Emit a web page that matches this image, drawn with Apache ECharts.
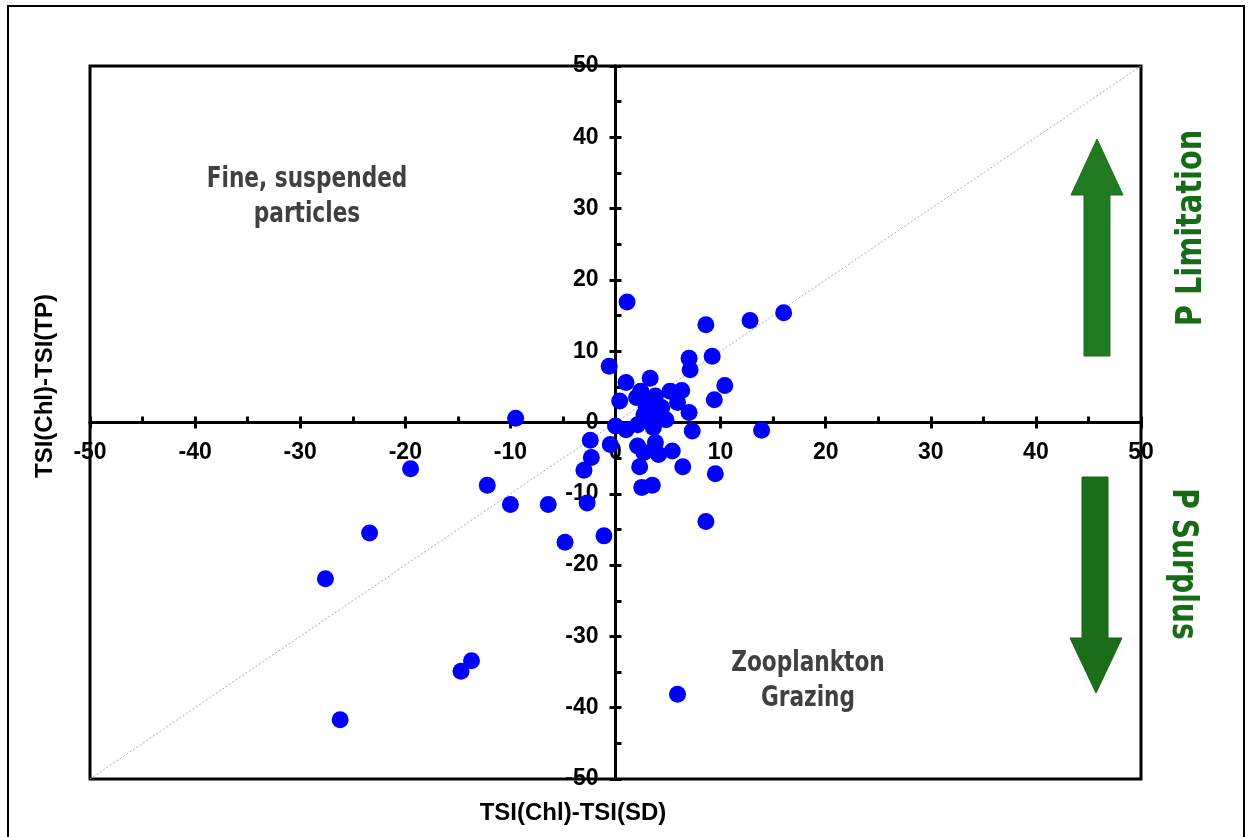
<!DOCTYPE html>
<html>
<head>
<meta charset="utf-8">
<script src="https://cdn.jsdelivr.net/npm/echarts@6/dist/echarts.min.js"></script>
<style>
html,body{margin:0;padding:0;background:#fff;}
#main{width:1248px;height:837px;}
</style>
</head>
<body>
<div id="main"></div>
<script>
// TSI(Chl)-TSI(SD) values (x)
const xValues = [1.1, 16.0, 12.8, 8.6, 7.0, 9.2, 7.1, -0.6, 10.4, 9.4,
  1.0, 3.3, 0.4, 2.4, 3.8, 5.2, 6.3, 2.9, 4.4, 5.9,
  7.0, 2.7, 4.0, 4.8, 2.1, 0.0, 1.0, 3.6, 7.3, 13.9,
  -2.4, -0.5, 2.1, 3.8, -2.3, 2.7, 4.1, 5.4, -3.0, 2.3,
  6.4, 9.5, 2.5, 3.5, -2.7, 8.6, -9.5, -19.5, -12.2, -10.0,
  -6.4, -23.4, -4.8, -1.1, -27.6, -13.7, -14.7, -26.2, 5.9,
  2.0, 3.0, 4.2];
// TSI(Chl)-TSI(TP) values (y)
const yValues = [16.9, 15.4, 14.3, 13.7, 9.0, 9.3, 7.4, 7.9, 5.2, 3.2,
  5.6, 6.2, 3.0, 4.4, 3.7, 4.4, 4.5, 2.5, 2.1, 2.8,
  1.4, 1.1, 0.7, 0.4, -0.3, -0.5, -1.0, -0.7, -1.2, -1.1,
  -2.5, -3.1, -3.3, -2.8, -4.9, -4.2, -4.5, -4.0, -6.7, -6.2,
  -6.2, -7.2, -9.1, -8.8, -11.3, -13.9, 0.6, -6.5, -8.8, -11.5,
  -11.5, -15.5, -16.8, -15.9, -21.9, -33.4, -34.9, -41.7, -38.1,
  3.5, 1.8, 1.6];
const axisMin = -50, axisMax = 50, axisStep = 10;
const refLine = [[-50, -50], [50, 50]];
const xName = 'TSI(Chl)-TSI(SD)';
const yName = 'TSI(Chl)-TSI(TP)';
const quadTopLeft = 'Fine, suspended\nparticles';
const quadBottomRight = 'Zooplankton\nGrazing';
const upLabel = 'P Limitation';
const downLabel = 'P Surplus';

const points = xValues.map((x, i) => [x, yValues[i]]);
const labelFont = {fontSize: 23, fontWeight: 'bold', fontFamily: '"Liberation Sans", Arial, sans-serif', color: '#000'};
const condFont = '"DejaVu Sans Condensed", "DejaVu Sans", sans-serif';

const W = 1248, H = 837;
const G = {left: 90, right: 107, top: 66, bottom: 58};
const gridW = W - G.left - G.right, gridH = H - G.top - G.bottom;
// move the axes from the grid edge to the zero crossing (v6 keeps labels at the edge with onZero)
const zeroFrac = (0 - axisMin) / (axisMax - axisMin);
const xOffset = -gridH * zeroFrac;
const yOffset = -gridW * zeroFrac;

const chart = echarts.init(document.getElementById('main'), null, {renderer: 'canvas'});

function mkAxis(withLabels, inside, margin, position, offset) {
  return {
    type: 'value', min: axisMin, max: axisMax, interval: axisStep,
    position: position, offset: offset,
    axisLine: {show: true, onZero: false, lineStyle: {color: '#000', width: 3}},
    axisTick: {show: true, inside: inside, length: 6, lineStyle: {color: '#000', width: 3}},
    minorTick: {show: inside, splitNumber: 2, length: 6, lineStyle: {color: '#000', width: 3}},
    splitLine: {show: false},
    minorSplitLine: {show: false},
    axisLabel: Object.assign({show: withLabels, margin: margin, showMinLabel: true, showMaxLabel: true}, labelFont)
  };
}

const option = {
  animation: false,
  backgroundColor: '#fff',
  grid: Object.assign({show: true, borderColor: '#000', borderWidth: 3, backgroundColor: 'transparent'}, G),
  xAxis: [
    mkAxis(true, false, 19, 'bottom', xOffset),
    mkAxis(false, true, 8, 'bottom', xOffset)
  ],
  yAxis: [
    mkAxis(true, false, 17, 'left', yOffset),
    mkAxis(false, true, 8, 'left', yOffset)
  ],
  series: [
    {
      type: 'line', data: refLine, symbol: 'none', silent: true, z: 1,
      lineStyle: {color: '#a8a8a8', width: 1, type: [2, 2]}
    },
    {
      type: 'scatter', data: points, symbol: 'circle', symbolSize: 17, z: 3,
      itemStyle: {color: '#0000ff', opacity: 1}
    }
  ],
  graphic: [
    {type: 'rect', shape: {x: 8, y: 6, width: 1236, height: 845}, style: {fill: 'none', stroke: '#000', lineWidth: 2}, silent: true, z: -10},
    {type: 'text', x: 307, y: 197, scaleX: 0.86, style: {text: quadTopLeft, font: 'bold 28px ' + condFont, fill: '#404040', textAlign: 'center', textVerticalAlign: 'middle', lineHeight: 35}},
    {type: 'text', x: 808, y: 681, scaleX: 0.86, style: {text: quadBottomRight, font: 'bold 28px ' + condFont, fill: '#404040', textAlign: 'center', textVerticalAlign: 'middle', lineHeight: 35}},
    {type: 'text', x: 1192, y: 228, rotation: Math.PI / 2, scaleX: 0.89, style: {text: upLabel, font: 'bold 36px ' + condFont, fill: '#166b16', textAlign: 'center', textVerticalAlign: 'middle'}},
    {type: 'text', x: 1182, y: 564, rotation: -Math.PI / 2, scaleX: 0.87, style: {text: downLabel, font: 'bold 36px ' + condFont, fill: '#166b16', textAlign: 'center', textVerticalAlign: 'middle'}},
    {type: 'polygon', shape: {points: [[1097, 139], [1123, 195], [1110, 195], [1110, 356], [1084, 356], [1084, 195], [1071, 195]]}, style: {fill: '#217a21', stroke: '#1c6f1c', lineWidth: 1}},
    {type: 'polygon', shape: {points: [[1082, 477], [1108, 477], [1108, 638], [1122, 638], [1096, 693], [1070, 638], [1082, 638]]}, style: {fill: '#1b6f1b', stroke: '#186418', lineWidth: 1}},
    {type: 'text', x: 45, y: 386, rotation: Math.PI / 2, style: {text: yName, font: 'bold 24px "Liberation Sans", Arial, sans-serif', fill: '#000', textAlign: 'center', textVerticalAlign: 'middle'}},
    {type: 'text', x: 573, y: 813, style: {text: xName, font: 'bold 24px "Liberation Sans", Arial, sans-serif', fill: '#000', textAlign: 'center', textVerticalAlign: 'middle'}}
  ]
};
chart.setOption(option);
</script>
</body>
</html>
